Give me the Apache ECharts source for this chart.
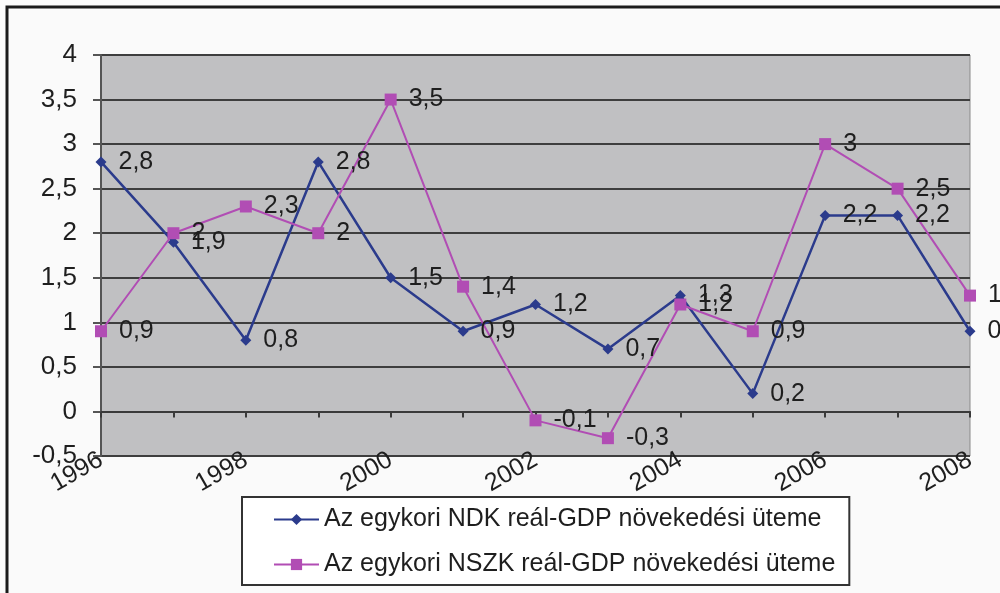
<!DOCTYPE html>
<html>
<head>
<meta charset="utf-8">
<style>
  html, body { margin: 0; padding: 0; background: #fafafa; }
  #chart { width: 1000px; height: 593px; }
</style>
<script src="https://cdn.jsdelivr.net/npm/echarts@6.0.0/dist/echarts.min.js"></script>
</head>
<body>
<div id="chart"></div>
<script>
const years = ['1996', '1997', '1998', '1999', '2000', '2001', '2002', '2003', '2004', '2005', '2006', '2007', '2008'];
const ndkValues = [2.8, 1.9, 0.8, 2.8, 1.5, 0.9, 1.2, 0.7, 1.3, 0.2, 2.2, 2.2, 0.9];
const nszkValues = [0.9, 2, 2.3, 2, 3.5, 1.4, -0.1, -0.3, 1.2, 0.9, 3, 2.5, 1.3];
const ndkName = 'Az egykori NDK reál-GDP növekedési üteme';
const nszkName = 'Az egykori NSZK reál-GDP növekedési üteme';

const font = 'Liberation Sans, Arial, sans-serif';
const textColor = '#1e1e1e';
const comma = v => String(v).replace('.', ',');

const chart = echarts.init(document.getElementById('chart'));

const dataLabel = {
    show: true,
    position: 'right',
    distance: 12,
    color: textColor,
    fontSize: 25,
    fontFamily: font,
    formatter: p => comma(p.value)
};

chart.setOption({
    backgroundColor: '#fafafa',
    animation: false,
    graphic: [{
        type: 'rect',
        shape: { x: 7, y: 7, width: 1010, height: 600 },
        style: { fill: 'none', stroke: '#1a1a1a', lineWidth: 3 },
        z: 100
    }],
    grid: { left: 101, top: 55, right: 30, bottom: 137, show: true, backgroundColor: '#c0c0c2', borderColor: '#8a8a8a', borderWidth: 1 },
    legend: {
        orient: 'vertical',
        left: 242,
        top: 497,
        padding: [10, 14, 8, 31],
        itemGap: 20,
        itemWidth: 45,
        itemHeight: 14,
        backgroundColor: '#ffffff',
        borderColor: '#333',
        borderWidth: 2,
        textStyle: { fontSize: 25, color: textColor, fontFamily: font },
        data: [ndkName, nszkName]
    },
    xAxis: [{
        type: 'category',
        data: years,
        boundaryGap: false,
        axisLine: { onZero: true, lineStyle: { color: '#3a3a3a', width: 2 } },
        axisTick: { show: true, interval: 0, inside: false, length: 6, lineStyle: { color: '#3a3a3a', width: 2 } },
        axisLabel: { show: false },
        splitLine: { show: false }
    }, {
        type: 'category',
        data: years,
        boundaryGap: false,
        position: 'bottom',
        axisLine: { show: false, onZero: false },
        axisTick: { show: false },
        axisLabel: {
            interval: 1,
            rotate: 30,
            margin: 2,
            fontSize: 25,
            color: textColor,
            fontFamily: font
        },
        splitLine: { show: false }
    }],
    yAxis: {
        type: 'value',
        min: -0.5,
        max: 4,
        interval: 0.5,
        axisLine: { show: true, lineStyle: { color: '#555', width: 2 } },
        axisTick: { show: true, length: 8, lineStyle: { color: '#555', width: 2 } },
        axisLabel: {
            margin: 24,
            fontSize: 26,
            color: textColor,
            fontFamily: font,
            formatter: v => comma(v)
        },
        splitLine: { show: true, lineStyle: { color: '#3e3e3e', width: 2 } }
    },
    series: [{
        name: ndkName,
        type: 'line',
        xAxisIndex: 0,
        data: ndkValues,
        symbol: 'diamond',
        symbolSize: 11,
        color: '#2b3b8c',
        lineStyle: { width: 2.5, color: '#2b3b8c' },
        itemStyle: { color: '#2b3b8c' },
        label: dataLabel
    }, {
        name: nszkName,
        type: 'line',
        xAxisIndex: 0,
        data: nszkValues,
        symbol: 'rect',
        symbolSize: 12,
        color: '#b14db4',
        lineStyle: { width: 2, color: '#b14db4' },
        itemStyle: { color: '#b14db4' },
        label: dataLabel
    }]
});
</script>
</body>
</html>
